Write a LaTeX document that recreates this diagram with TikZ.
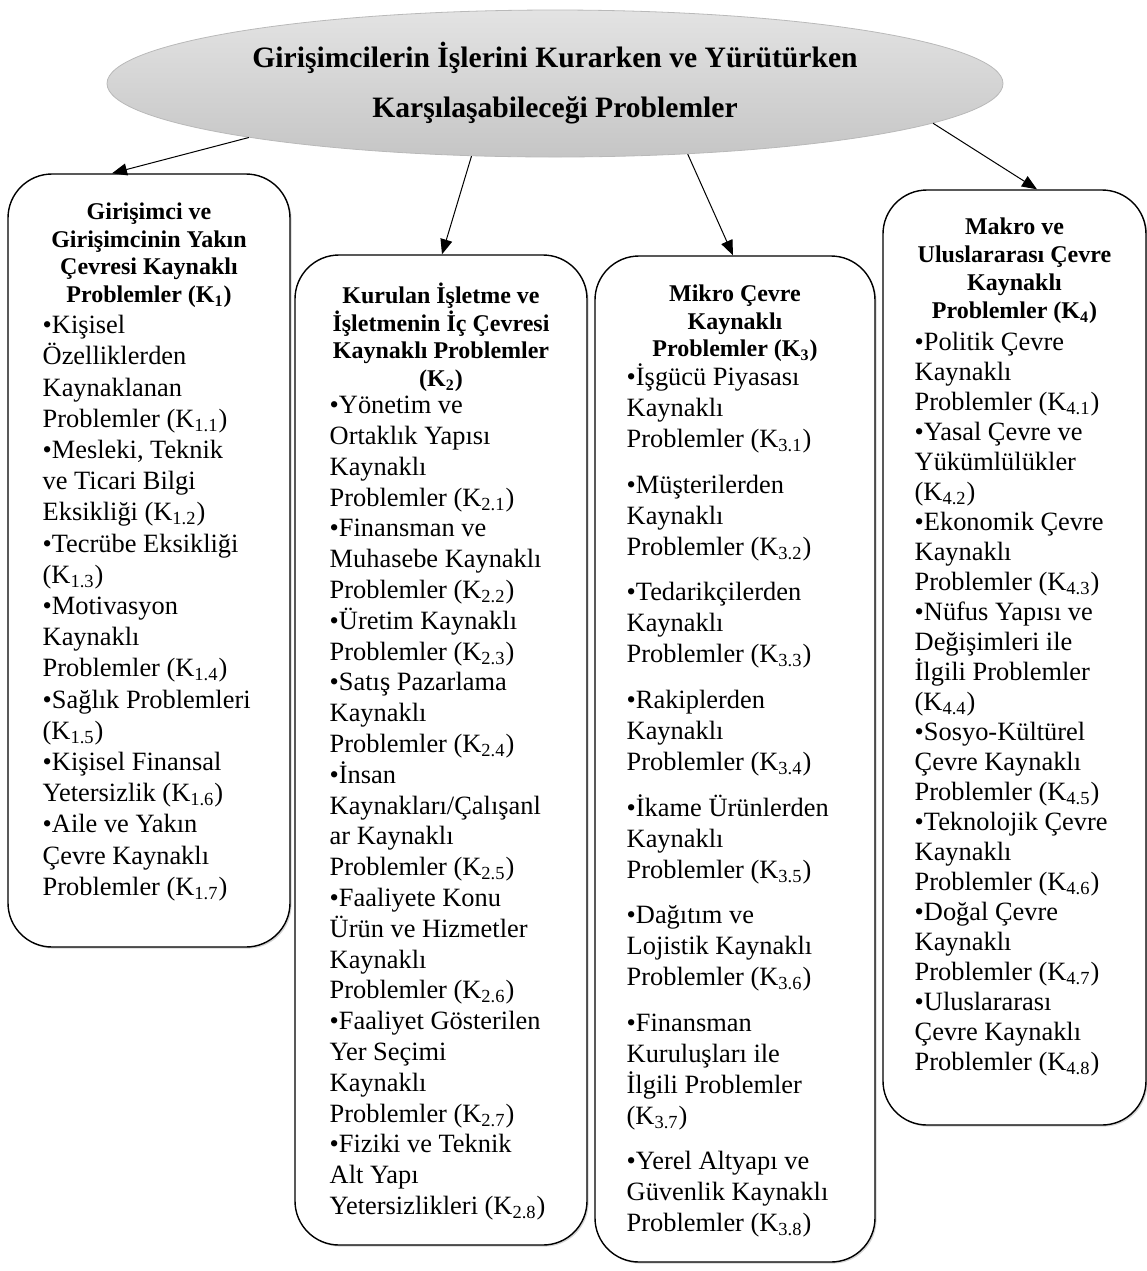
\documentclass[tikz,border=0pt]{standalone}
\usepackage{fontspec}
\setmainfont{Liberation Serif}
\usetikzlibrary{arrows.meta,shapes.geometric,shadows,calc}

\begin{document}
\begin{tikzpicture}[x=0.5pt, y=-0.5pt,
    kutu/.style={draw, line width=0.7pt, rounded corners=22pt, fill=white,
        drop shadow={shadow xshift=0.8pt, shadow yshift=-0.8pt, opacity=0.35}},
    baslik/.style={anchor=north, inner sep=0pt, align=center,
        font=\bfseries\fontsize{12}{13.8}\selectfont},
    liste/.style={anchor=north west, inner sep=0pt, align=left,
        font=\fontsize{13.2}{15.4}\selectfont},
    ok/.style={-{Triangle[length=7.5pt, width=6pt]}, line width=0.5pt}]

    % Frame
    \useasboundingbox (0,0) rectangle (1147,1271);

    % Main topic
    \node[ellipse, draw=gray!55, top color=gray!22, bottom color=gray!45,
        minimum width=448pt, minimum height=73.5pt, inner sep=0pt, align=center,
        font=\bfseries\fontsize{14.8}{25}\selectfont] (top) at (555,83.5)
        {Girişimcilerin İşlerini Kurarken ve Yürütürken\\Karşılaşabileceği Problemler};

    % Boxes
    \node[kutu, minimum width=141pt, minimum height=386.5pt] (k1) at (149,560.5) {};
    \node[kutu, minimum width=146pt, minimum height=495pt] (k2) at (441,750) {};
    \node[kutu, minimum width=140pt, minimum height=503pt] (k3) at (735,759) {};
    \node[kutu, minimum width=131.5pt, minimum height=467.5pt] (k4) at (1014.5,657.5) {};

    % Box 1
    \node[baslik] (h1) at ($(k1.north)+(0,22)$) {\rule{0pt}{12pt}Girişimci ve\\Girişimcinin Yakın\\Çevresi Kaynaklı\\Problemler (K\textsubscript{1})};
    \node[liste, font=\fontsize{13.2}{15.6}\selectfont] (l1) at ($(k1.north west)+(35,134)$)
        {\rule{0pt}{13pt}•Kişisel\\Özelliklerden\\Kaynaklanan\\Problemler (K\textsubscript{1.1})\\•Mesleki, Teknik\\ve Ticari Bilgi\\Eksikliği (K\textsubscript{1.2})\\•Tecrübe Eksikliği\\(K\textsubscript{1.3})\\•Motivasyon\\Kaynaklı\\Problemler (K\textsubscript{1.4})\\•Sağlık Problemleri\\(K\textsubscript{1.5})\\•Kişisel Finansal\\Yetersizlik (K\textsubscript{1.6})\\•Aile ve Yakın\\Çevre Kaynaklı\\Problemler (K\textsubscript{1.7})};

    % Box 2
    \node[baslik] (h2) at ($(k2.north)+(0,25)$) {\rule{0pt}{12pt}Kurulan İşletme ve\\İşletmenin İç Çevresi\\Kaynaklı Problemler\\(K\textsubscript{2})};
    \node[liste] (l2) at ($(k2.north west)+(35,133)$)
        {\rule{0pt}{13pt}•Yönetim ve\\Ortaklık Yapısı\\Kaynaklı\\Problemler (K\textsubscript{2.1})\\•Finansman ve\\Muhasebe Kaynaklı\\Problemler (K\textsubscript{2.2})\\•Üretim Kaynaklı\\Problemler (K\textsubscript{2.3})\\•Satış Pazarlama\\Kaynaklı\\Problemler (K\textsubscript{2.4})\\•İnsan\\Kaynakları/Çalışanl\\ar Kaynaklı\\Problemler (K\textsubscript{2.5})\\•Faaliyete Konu\\Ürün ve Hizmetler\\Kaynaklı\\Problemler (K\textsubscript{2.6})\\•Faaliyet Gösterilen\\Yer Seçimi\\Kaynaklı\\Problemler (K\textsubscript{2.7})\\•Fiziki ve Teknik\\Alt Yapı\\Yetersizlikleri (K\textsubscript{2.8})};

    % Box 3
    \node[baslik] (h3) at ($(k3.north)+(0,22)$) {\rule{0pt}{12pt}Mikro Çevre\\Kaynaklı\\Problemler (K\textsubscript{3})};
    \node[liste, font=\fontsize{13.2}{15.5}\selectfont] (l3) at ($(k3.north west)+(32,104)$)
        {\rule{0pt}{13pt}•İşgücü Piyasası\\Kaynaklı\\Problemler (K\textsubscript{3.1})\\[7.3pt]•Müşterilerden\\Kaynaklı\\Problemler (K\textsubscript{3.2})\\[7.3pt]•Tedarikçilerden\\Kaynaklı\\Problemler (K\textsubscript{3.3})\\[7.3pt]•Rakiplerden\\Kaynaklı\\Problemler (K\textsubscript{3.4})\\[7.3pt]•İkame Ürünlerden\\Kaynaklı\\Problemler (K\textsubscript{3.5})\\[7.3pt]•Dağıtım ve\\Lojistik Kaynaklı\\Problemler (K\textsubscript{3.6})\\[7.3pt]•Finansman\\Kuruluşları ile\\İlgili Problemler\\(K\textsubscript{3.7})\\[7.3pt]•Yerel Altyapı ve\\Güvenlik Kaynaklı\\Problemler (K\textsubscript{3.8})};

    % Box 4
    \node[baslik, font=\bfseries\fontsize{12}{14}\selectfont] (h4) at ($(k4.north)+(0,21)$) {\rule{0pt}{12pt}Makro ve\\Uluslararası Çevre\\Kaynaklı\\Problemler (K\textsubscript{4})};
    \node[liste, font=\fontsize{13.2}{15}\selectfont] (l4) at ($(k4.north west)+(32,135)$)
        {\rule{0pt}{13pt}•Politik Çevre\\Kaynaklı\\Problemler (K\textsubscript{4.1})\\•Yasal Çevre ve\\Yükümlülükler\\(K\textsubscript{4.2})\\•Ekonomik Çevre\\Kaynaklı\\Problemler (K\textsubscript{4.3})\\•Nüfus Yapısı ve\\Değişimleri ile\\İlgili Problemler\\(K\textsubscript{4.4})\\•Sosyo-Kültürel\\Çevre Kaynaklı\\Problemler (K\textsubscript{4.5})\\•Teknolojik Çevre\\Kaynaklı\\Problemler (K\textsubscript{4.6})\\•Doğal Çevre\\Kaynaklı\\Problemler (K\textsubscript{4.7})\\•Uluslararası\\Çevre Kaynaklı\\Problemler (K\textsubscript{4.8})};

    % Arrows
    \draw[ok] (top.190) -- ($(k1.north)+(-37,0)$);
    \draw[ok] (top.221) -- ($(k2.north)+(1,0)$);
    \draw[ok] (top.332) -- ($(k3.north)+(-2,0)$);
    \draw[ok] (top.354) -- ($(k4.north)+(22.5,0)$);
\end{tikzpicture}
\end{document}
